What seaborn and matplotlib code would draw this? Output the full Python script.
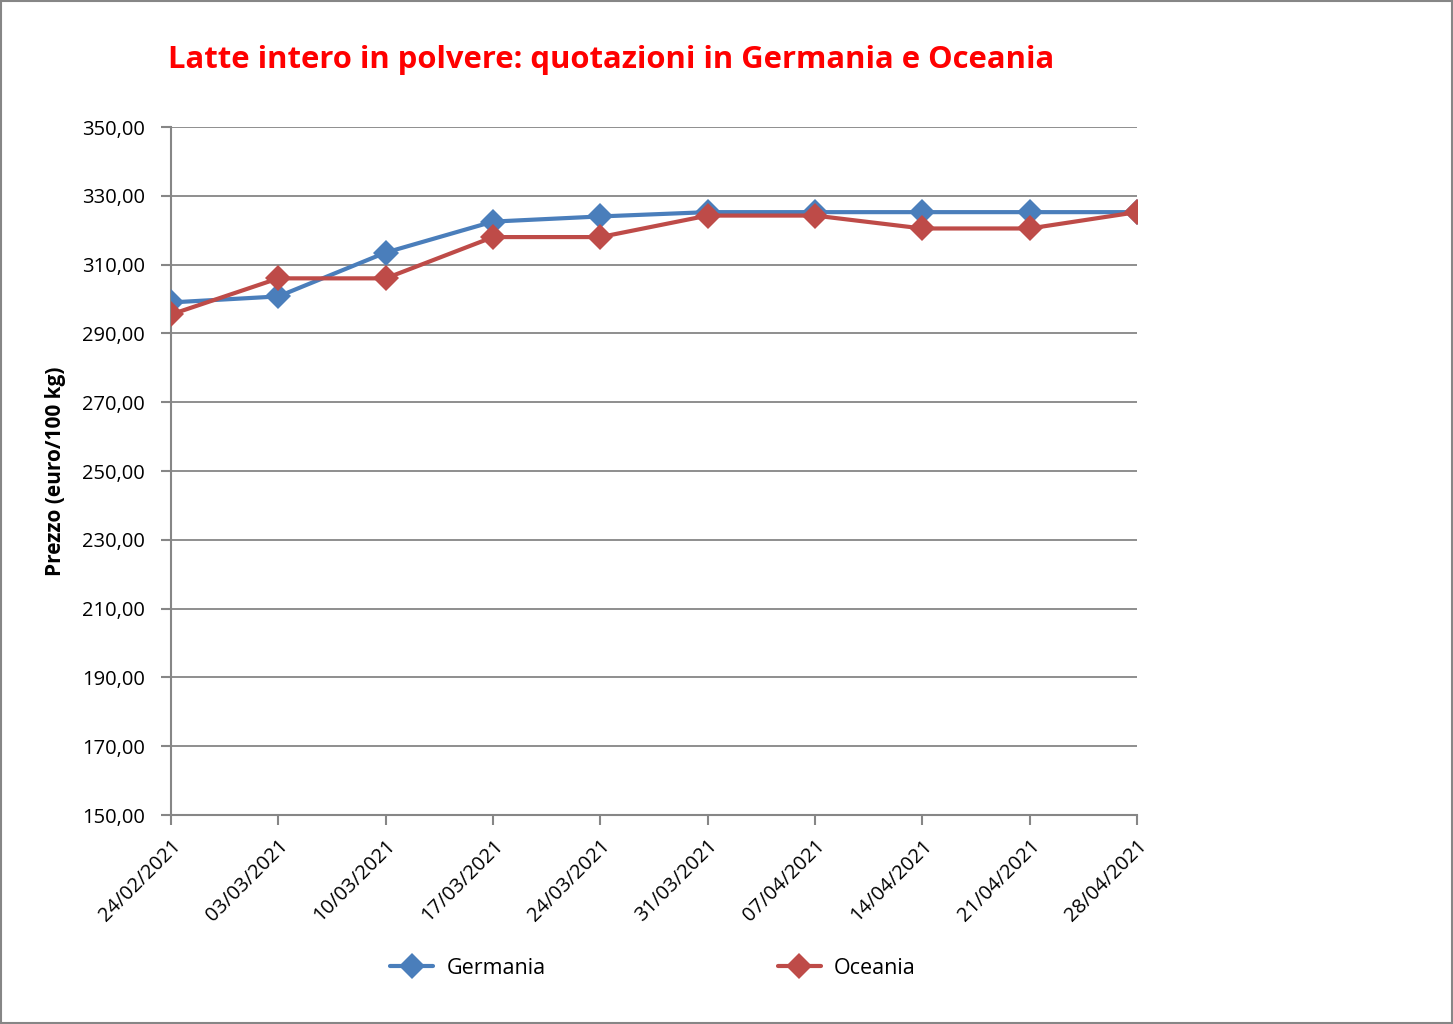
"""
Latte intero in polvere: quotazioni in Germania e Oceania
"""

import pandas as pd
import numpy as np
import matplotlib.pyplot as plt
import seaborn as sns
from matplotlib.patches import Rectangle

# Data
dates = [
    "24/02/2021", "03/03/2021", "10/03/2021", "17/03/2021", "24/03/2021",
    "31/03/2021", "07/04/2021", "14/04/2021", "21/04/2021", "28/04/2021",
]
germania = [299.0, 300.75, 313.5, 322.5, 324.0, 325.25, 325.25, 325.25, 325.25, 325.25]
oceania = [295.5, 306.0, 306.0, 318.0, 318.0, 324.25, 324.25, 320.5, 320.5, 325.25]
y_ticks = np.arange(150, 351, 20)

colors = {"Germania": "#4A7EBB", "Oceania": "#BE4B48"}


def build_frame():
    rows = []
    for i, d in enumerate(dates):
        rows.append({"idx": i, "data": d, "serie": "Germania", "prezzo": germania[i]})
        rows.append({"idx": i, "data": d, "serie": "Oceania", "prezzo": oceania[i]})
    return pd.DataFrame(rows)


def make_chart(df):
    sns.set_style("white")
    plt.rcParams["font.family"] = ["Open Sans", "DejaVu Sans"]
    plt.rcParams["text.color"] = "black"
    plt.rcParams["axes.labelcolor"] = "black"
    plt.rcParams["xtick.labelcolor"] = "black"
    plt.rcParams["ytick.labelcolor"] = "black"

    fig = plt.figure(figsize=(14.53, 10.24), dpi=100)
    ax = fig.add_axes([171 / 1453, 1 - 815 / 1024, (1137 - 171) / 1453, (815 - 127) / 1024])

    sns.lineplot(
        data=df, x="idx", y="prezzo", hue="serie", palette=colors,
        marker="D", markersize=13, markeredgewidth=0, linewidth=3.0,
        ax=ax, legend=False, zorder=3,
    )

    ax.set_xlim(0, len(dates) - 1)
    ax.set_ylim(150, 350)
    ax.set_yticks(y_ticks)
    ax.set_yticklabels([f"{v:.2f}".replace(".", ",") for v in y_ticks], fontsize=14.5)
    ax.set_xticks(range(len(dates)))
    ax.set_xticklabels(dates, rotation=45, ha="right", rotation_mode="anchor", fontsize=14.5)
    ax.tick_params(axis="both", direction="out", length=7, width=1.5, color="#868686",
                   pad=8, bottom=True, left=True)
    ax.tick_params(axis="y", pad=12)

    ax.grid(True, axis="y", color="#868686", linewidth=1.3)
    ax.set_axisbelow(True)
    for side in ["top", "right"]:
        ax.spines[side].set_visible(False)
    for side in ["left", "bottom"]:
        ax.spines[side].set_color("#868686")
        ax.spines[side].set_linewidth(1.5)

    ax.set_xlabel("")
    ax.set_ylabel("Prezzo (euro/100 kg)", fontsize=15, fontweight="bold", labelpad=11)

    fig.text(168 / 1453, 1 - 60 / 1024, "Latte intero in polvere: quotazioni in Germania e Oceania",
             color="#FF0000", fontsize=22.3, fontweight="bold", va="center", ha="left")

    # legend below the plot
    handles = [
        plt.Line2D([], [], color=colors[s], marker="D", markersize=13,
                   markeredgewidth=0, linewidth=3.0)
        for s in ["Germania", "Oceania"]
    ]
    fig.legend(handles, ["Germania", "Oceania"], loc="center",
               bbox_to_anchor=(653 / 1453, 1 - 968 / 1024), ncol=2, frameon=False,
               fontsize=15.5, columnspacing=10.8, handlelength=2.0, handletextpad=0.6)

    # outer border
    fig.patches.append(Rectangle((0.0005, 0.0005), 0.999, 0.999, transform=fig.transFigure,
                                 fill=False, edgecolor="#868686", linewidth=1.5))
    return fig


if __name__ == "__main__":
    df = build_frame()
    fig = make_chart(df)
    fig.savefig("out.png", dpi=100, facecolor="white")
    plt.close(fig)
